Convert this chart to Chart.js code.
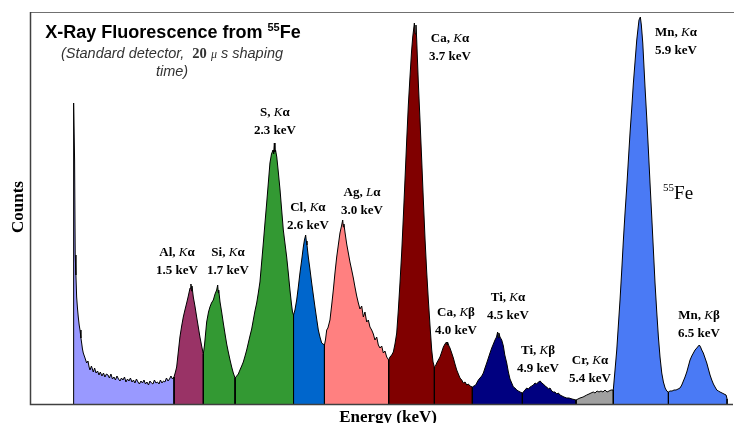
<!DOCTYPE html>
<html>
<head>
<meta charset="utf-8">
<script src="https://cdn.jsdelivr.net/npm/chart.js@4.4.1/dist/chart.umd.min.js"></script>
<style>
  html, body { margin: 0; padding: 0; background: #fff; }
  canvas { display: block; }
</style>
</head>
<body>
<canvas id="xrf" width="734" height="423"></canvas>
<script>
// 55Fe spectrum: energy (keV) and counts, one row per peak region
var energy = [
  0.347, 0.354, 0.360, 0.366, 0.373, 0.380, 0.388, 0.396, 0.405, 0.413, 0.422, 0.429, 0.437, 0.445, 0.462, 0.478,
  0.491, 0.502, 0.511, 0.525, 0.543, 0.556, 0.570, 0.585, 0.599, 0.612, 0.628, 0.643, 0.657, 0.672, 0.687, 0.701,
  0.716, 0.731, 0.746, 0.760, 0.775, 0.790, 0.805, 0.819, 0.834, 0.849, 0.863, 0.878, 0.893, 0.907, 0.922, 0.937,
  0.951, 0.966, 0.981, 0.995, 1.010, 1.025, 1.040, 1.054, 1.069, 1.084, 1.098, 1.113, 1.128, 1.142, 1.157, 1.172,
  1.187, 1.201, 1.216, 1.231, 1.245, 1.260, 1.275, 1.290, 1.304, 1.319, 1.334,
  1.348, 1.360, 1.376, 1.392, 1.409, 1.425, 1.441, 1.458, 1.474, 1.491, 1.500, 1.505, 1.510, 1.523, 1.539, 1.556,
  1.572, 1.588, 1.605, 1.621,
  1.633, 1.654, 1.672, 1.686, 1.701, 1.719, 1.736, 1.752, 1.762, 1.768, 1.772, 1.785, 1.801, 1.817, 1.834, 1.850,
  1.866, 1.883, 1.899, 1.915, 1.932,
  1.948, 1.964, 1.980, 1.997, 2.013, 2.030, 2.046, 2.062, 2.078, 2.095, 2.111, 2.127, 2.144, 2.160, 2.176, 2.193,
  2.209, 2.226, 2.242, 2.258, 2.274, 2.289, 2.304, 2.310, 2.317, 2.323, 2.329, 2.341, 2.356, 2.373, 2.389, 2.405,
  2.422, 2.438, 2.454, 2.470, 2.485, 2.495, 2.505,
  2.519, 2.536, 2.552, 2.568, 2.585, 2.601, 2.612, 2.624, 2.630, 2.637, 2.650, 2.667, 2.683, 2.699, 2.715, 2.732,
  2.748, 2.764, 2.781, 2.794, 2.808,
  2.818, 2.830, 2.842, 2.862, 2.879, 2.895, 2.911, 2.928, 2.944, 2.960, 2.975, 2.987, 2.993, 2.999, 3.009, 3.026,
  3.042, 3.058, 3.075, 3.091, 3.107, 3.124, 3.140, 3.156, 3.173, 3.189, 3.205, 3.222, 3.238, 3.254, 3.271, 3.287,
  3.303, 3.320, 3.336, 3.352, 3.369, 3.385, 3.401, 3.418, 3.437,
  3.450, 3.467, 3.483, 3.499, 3.516, 3.532, 3.548, 3.565, 3.581, 3.597, 3.614, 3.630, 3.646, 3.661, 3.673, 3.681,
  3.689, 3.697, 3.705, 3.712, 3.728, 3.745, 3.761, 3.777, 3.794, 3.810, 3.826, 3.842, 3.859, 3.872, 3.885,
  3.896, 3.908, 3.924, 3.940, 3.957, 3.973, 3.989, 4.004, 4.010, 4.014, 4.028, 4.038, 4.055, 4.071, 4.087, 4.104,
  4.120, 4.136, 4.153, 4.169, 4.186, 4.202, 4.218, 4.234, 4.257,
  4.273, 4.290, 4.300, 4.316, 4.332, 4.349, 4.365, 4.381, 4.398, 4.414, 4.430, 4.447, 4.463, 4.479, 4.494, 4.505,
  4.512, 4.517, 4.528, 4.545, 4.561, 4.575, 4.594, 4.610, 4.626, 4.643, 4.659, 4.675, 4.692, 4.708, 4.725, 4.747,
  4.765, 4.790, 4.806, 4.823, 4.839, 4.855, 4.871, 4.888, 4.904, 4.922, 4.937, 4.953, 4.969, 4.986, 5.002, 5.018,
  5.035, 5.051, 5.067, 5.084, 5.100, 5.116, 5.136, 5.155, 5.182, 5.204, 5.234, 5.273,
  5.292, 5.312, 5.342, 5.378, 5.400, 5.420, 5.442, 5.459, 5.479, 5.498, 5.518, 5.537, 5.557, 5.577, 5.596, 5.616,
  5.638,
  5.655, 5.672, 5.688, 5.704, 5.721, 5.737, 5.753, 5.770, 5.786, 5.802, 5.819, 5.835, 5.851, 5.868, 5.881, 5.890,
  5.903, 5.913, 5.927, 5.938, 5.949, 5.966, 5.982, 5.998, 6.015, 6.031, 6.047, 6.064, 6.080, 6.096, 6.113, 6.129,
  6.146, 6.162, 6.178,
  6.194, 6.214, 6.233, 6.253, 6.273, 6.292, 6.309, 6.325, 6.341, 6.358, 6.374, 6.390, 6.407, 6.423, 6.439, 6.456,
  6.472, 6.481, 6.493, 6.505, 6.520, 6.537, 6.554, 6.570, 6.586, 6.603, 6.619, 6.635, 6.652, 6.668, 6.684, 6.704,
  6.723, 6.743, 6.753
];
var counts = [
  151, 301, 244, 149, 129, 107, 96, 87, 79, 74, 66, 61, 55, 51, 46, 41,
  43, 37, 34, 38, 32, 36, 31, 33, 29, 32, 28, 31, 27, 30, 29, 26,
  30, 25, 27, 24, 28, 25, 23, 26, 24, 27, 22, 25, 23, 26, 22, 24,
  21, 25, 22, 20, 23, 21, 24, 20, 22, 19, 23, 21, 20, 24, 21, 22,
  20, 24, 21, 23, 22, 26, 23, 25, 28, 25, 27,
  32, 37, 52, 67, 78, 87, 94, 101, 108, 116, 120, 113, 118, 107, 98, 87,
  77, 67, 58, 50,
  59, 82, 92, 97, 101, 104, 110, 114, 119, 111, 114, 102, 92, 81, 70, 60,
  52, 44, 37, 31, 26,
  28, 30, 34, 38, 42, 48, 54, 61, 68, 75, 84, 93, 101, 111, 122, 142,
  161, 182, 201, 221, 241, 250, 254, 250, 261, 252, 254, 247, 232, 214, 194, 174,
  160, 147, 131, 114, 100, 92, 89,
  94, 104, 117, 131, 144, 157, 164, 169, 163, 159, 147, 134, 121, 109, 97, 85,
  74, 67, 61, 60, 59,
  64, 74, 76, 84, 99, 114, 131, 147, 159, 171, 178, 184, 177, 180, 172, 160,
  151, 142, 134, 126, 117, 108, 101, 95, 98, 87, 92, 82, 84, 77, 74, 70,
  64, 67, 59, 56, 58, 51, 53, 47, 44,
  47, 49, 52, 60, 71, 94, 121, 152, 187, 224, 264, 299, 327, 352, 367, 374,
  381, 370, 379, 364, 321, 282, 244, 204, 164, 132, 104, 79, 54, 42, 37,
  38, 41, 44, 47, 52, 57, 60, 62, 59, 62, 58, 56, 51, 46, 40, 34,
  30, 26, 24, 21, 22, 19, 20, 18, 17,
  18, 19, 21, 24, 26, 28, 31, 36, 41, 46, 51, 56, 60, 64, 67, 72,
  66, 71, 67, 64, 58, 49, 41, 32, 25, 21, 17, 16, 14, 13, 12, 11,
  13, 16, 15, 17, 18, 19, 21, 20, 22, 23, 21, 20, 18, 17, 15, 16,
  13, 12, 12, 10, 11, 9, 8, 7, 6, 6, 5, 4,
  5, 6, 7, 9, 10, 11, 12, 11, 13, 12, 13, 12, 14, 12, 13, 14,
  14,
  34, 54, 79, 104, 134, 164, 191, 217, 244, 271, 296, 321, 342, 364, 376, 384,
  387, 379, 361, 339, 317, 286, 254, 221, 187, 154, 121, 92, 67, 47, 31, 22,
  16, 13, 12,
  13, 13, 14, 14, 15, 16, 19, 23, 27, 32, 38, 44, 48, 51, 54, 56,
  58, 59, 57, 54, 51, 46, 41, 35, 29, 24, 20, 17, 14, 13, 12, 11,
  10, 9, 5
];

// region boundaries (keV) and the fill of each region between them
var regionEdges = [0.347, 1.334, 1.621, 1.932, 2.505, 2.808, 3.437, 3.885, 4.257, 4.747, 5.273, 5.638, 6.178, 6.753];
var regionColors = ['#9999FF', '#993366', '#339933', '#339933', '#0066CC', '#FF8080', '#800000', '#800000',
                    '#000080', '#000080', '#A0A0A0', '#4A7AF5', '#4A7AF5'];

// peak labels: element, shell, line, energy text, anchor (keV, counts) of first line baseline
var peakElements = ['Al', 'Si', 'S', 'Cl', 'Ag', 'Ca', 'Ca', 'Ti', 'Ti', 'Cr', 'Mn', 'Mn'];
var peakShells   = ['K', 'K', 'K', 'K', 'L', 'K', 'K', 'K', 'K', 'K', 'K', 'K'];
var peakLines    = ['α', 'α', 'α', 'α', 'α', 'α', 'β', 'α', 'β', 'α', 'α', 'β'];
var peakKeV      = ['1.5', '1.7', '2.3', '2.6', '3.0', '3.7', '4.0', '4.5', '4.9', '5.4', '5.9', '6.5'];
var labelX       = [1.363, 1.863, 2.323, 2.646, 3.176, 4.038, 4.097, 4.607, 4.901, 5.410, 6.253, 6.478];
var labelY       = [148, 148, 288, 193, 208, 362, 88, 103, 50, 40, 368, 85];

// source tag next to the Mn Ka peak
var sourceX = 6.273;
var sourceY = 205;

var SERIF = "'Liberation Serif', 'Times New Roman', serif";
var SANS = "'Liberation Sans', Arial, sans-serif";

var datasets = [];
for (var r = 0; r < regionColors.length; r++) {
  var lo = regionEdges[r], hi = regionEdges[r + 1];
  var pts = [{ x: lo, y: 0 }];
  for (var i = 0; i < energy.length; i++) {
    if (energy[i] >= lo - 1e-9 && energy[i] <= hi + 1e-9) pts.push({ x: energy[i], y: counts[i] });
  }
  pts.push({ x: hi, y: 0 });
  datasets.push({
    data: pts,
    backgroundColor: regionColors[r],
    borderColor: '#000',
    borderWidth: 1,
    fill: 'origin',
    pointRadius: 0,
    tension: 0
  });
}

// draws a row of differently styled text pieces centred on cx
function drawRuns(ctx, runs, cx, y) {
  var total = 0;
  runs.forEach(function (r) { ctx.font = r.font; total += ctx.measureText(r.text).width; });
  var x = cx - total / 2;
  runs.forEach(function (r) {
    ctx.font = r.font;
    ctx.fillText(r.text, x, y + (r.dy || 0));
    x += ctx.measureText(r.text).width;
  });
}

var frame = {
  id: 'frame',
  beforeDatasetsDraw: function (chart) {
    var ctx = chart.ctx, a = chart.chartArea;
    ctx.save();
    ctx.strokeStyle = '#707070';
    ctx.lineWidth = 1;
    ctx.beginPath();
    ctx.moveTo(a.left, a.top + 0.5);
    ctx.lineTo(chart.width, a.top + 0.5);
    ctx.stroke();
    ctx.restore();
  },
  afterDatasetsDraw: function (chart) {
    var ctx = chart.ctx, a = chart.chartArea;
    ctx.save();
    ctx.strokeStyle = '#404040';
    ctx.lineWidth = 1.5;
    ctx.beginPath();
    ctx.moveTo(a.left + 0.5, a.top);
    ctx.lineTo(a.left + 0.5, a.bottom + 0.5);
    ctx.lineTo(a.right, a.bottom + 0.5);
    ctx.stroke();
    ctx.restore();
  }
};

var annotations = {
  id: 'annotations',
  afterDraw: function (chart) {
    var ctx = chart.ctx;
    var xs = chart.scales.x, ys = chart.scales.y;
    ctx.save();
    ctx.textAlign = 'left';
    ctx.textBaseline = 'alphabetic';
    ctx.fillStyle = '#000';

    // title block
    drawRuns(ctx, [
      { text: 'X-Ray Fluorescence from ', font: 'bold 18px ' + SANS },
      { text: '55', font: 'bold 11px ' + SANS, dy: -7 },
      { text: 'Fe', font: 'bold 18px ' + SANS }
    ], 173, 38);
    ctx.fillStyle = '#333';
    drawRuns(ctx, [
      { text: '(Standard detector,  ', font: 'italic 14.5px ' + SANS },
      { text: '20', font: 'bold 14.5px ' + SERIF },
      { text: ' ', font: 'italic 14.5px ' + SANS },
      { text: 'μ', font: 'italic 12px ' + SERIF },
      { text: ' s shaping', font: 'italic 14.5px ' + SANS }
    ], 172, 58);
    drawRuns(ctx, [{ text: 'time)', font: 'italic 14.5px ' + SANS }], 172, 76);

    // peak labels
    ctx.fillStyle = '#000';
    for (var i = 0; i < peakElements.length; i++) {
      var px = xs.getPixelForValue(labelX[i]);
      var py = ys.getPixelForValue(labelY[i]);
      drawRuns(ctx, [
        { text: peakElements[i] + ', ', font: 'bold 13px ' + SERIF },
        { text: peakShells[i], font: 'italic 13px ' + SERIF },
        { text: peakLines[i], font: 'bold 13px ' + SERIF }
      ], px, py);
      drawRuns(ctx, [{ text: peakKeV[i] + ' keV', font: 'bold 13px ' + SERIF }], px, py + 18);
    }

    // 55Fe source tag
    drawRuns(ctx, [
      { text: '55', font: '11px ' + SERIF, dy: -8 },
      { text: 'Fe', font: '19px ' + SERIF }
    ], xs.getPixelForValue(sourceX), ys.getPixelForValue(sourceY));

    // axis titles
    ctx.font = 'bold 17px ' + SERIF;
    ctx.textAlign = 'center';
    ctx.fillText('Energy (keV)', 388, 422);
    ctx.translate(19, 207);
    ctx.rotate(-Math.PI / 2);
    ctx.textBaseline = 'middle';
    ctx.fillText('Counts', 0, 0);
    ctx.restore();
  }
};

new Chart(document.getElementById('xrf'), {
  type: 'line',
  data: { datasets: datasets },
  options: {
    responsive: false,
    animation: false,
    devicePixelRatio: 1,
    layout: { padding: { left: 30, right: 1, top: 12, bottom: 19 } },
    scales: {
      x: { type: 'linear', display: false, min: -0.077, max: 6.811 },
      y: { display: false, min: 0, max: 392 }
    },
    plugins: {
      legend: { display: false },
      tooltip: { enabled: false }
    }
  },
  plugins: [frame, annotations]
});
</script>
</body>
</html>
